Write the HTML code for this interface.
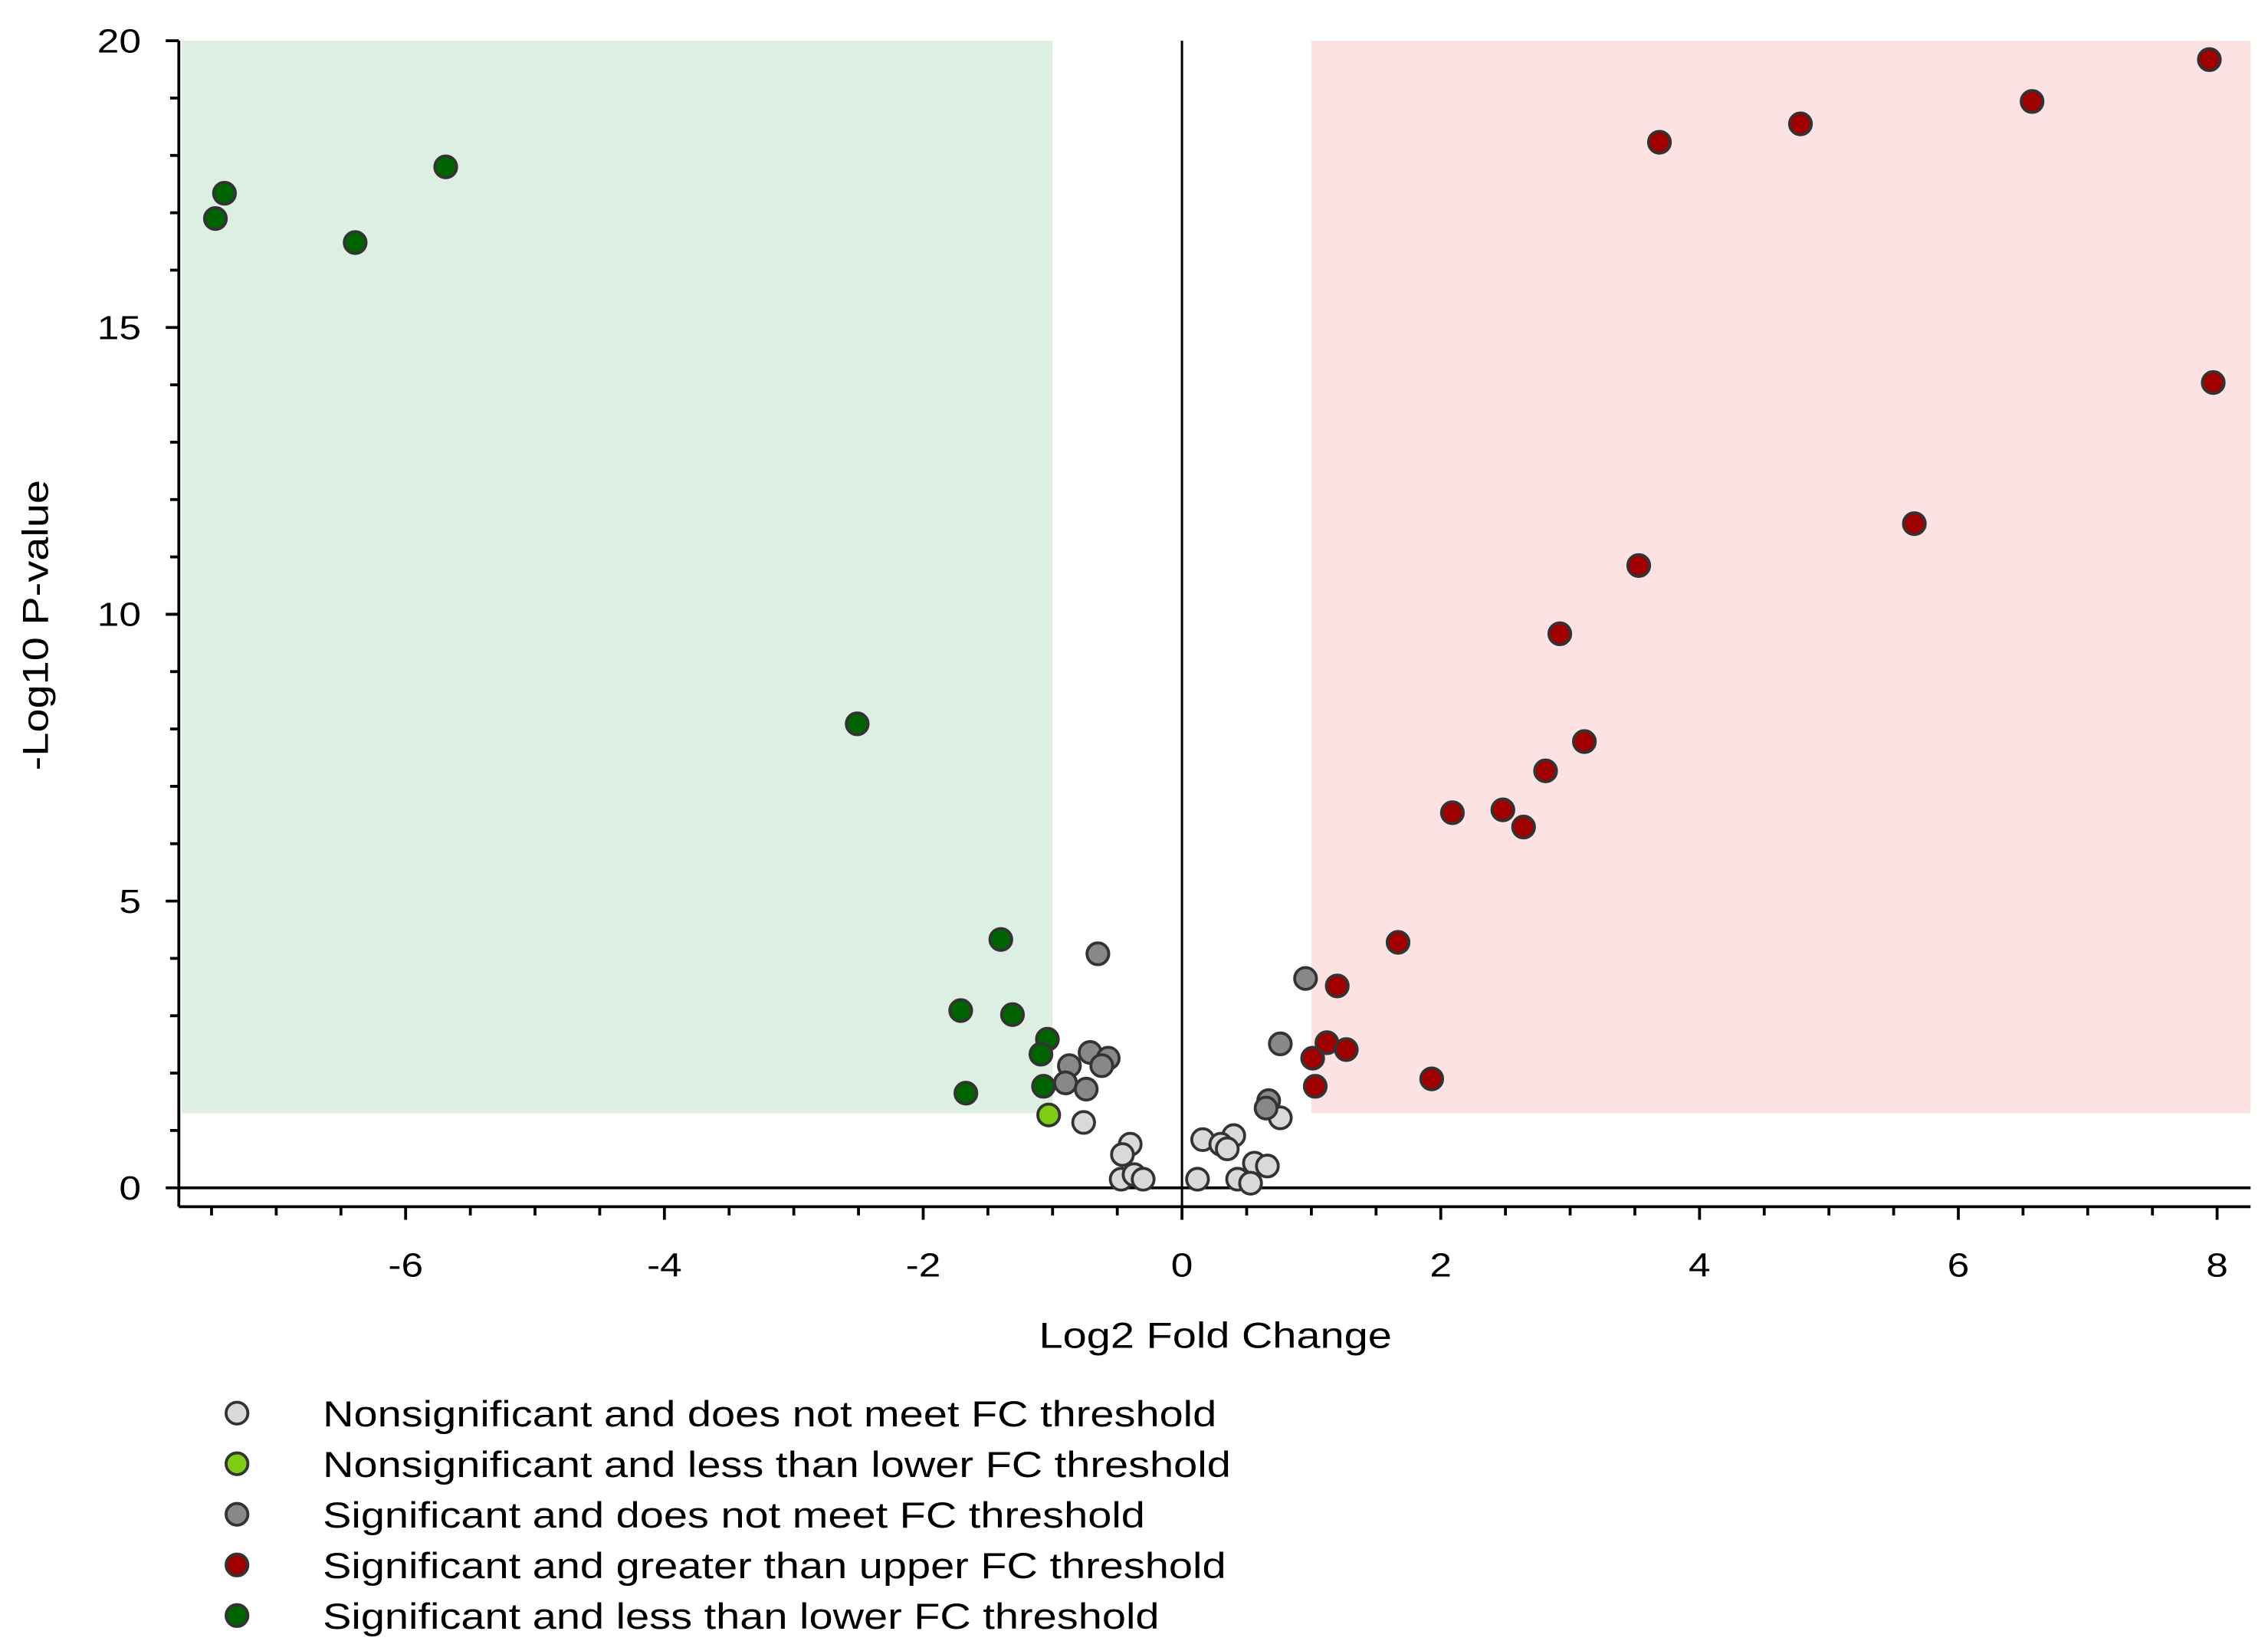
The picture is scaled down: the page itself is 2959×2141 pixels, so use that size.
<!DOCTYPE html>
<html><head><meta charset="utf-8"><style>
html,body{margin:0;padding:0;background:#fff;}
svg{display:block;}
text{font-family:"Liberation Sans",Arial,sans-serif;fill:#000;}
</style></head><body>
<svg id="chart" width="2959" height="2141" viewBox="0 0 1560 1128.7" preserveAspectRatio="none" xmlns="http://www.w3.org/2000/svg">
<g id="bg"></g><g id="axes"></g><g id="pts"></g><g id="legend"></g>
</svg>
<script>
const nsX=[-0.76,-0.40,-0.46,-0.47,-0.37,-0.30,0.16,0.40,0.30,0.35,0.76,0.12,0.43,0.56,0.66,0.53];
const nsY=[1.14,0.76,0.58,0.15,0.23,0.15,0.84,0.91,0.76,0.68,1.22,0.15,0.15,0.43,0.38,0.08];
const nsLowX=[-1.03];
const nsLowY=[1.27];
const sigX=[-0.65,-0.71,-0.57,-0.87,-0.62,-0.90,-0.74,0.955,0.76,0.67,0.65];
const sigY=[4.08,2.36,2.26,2.13,2.13,1.83,1.72,3.65,2.51,1.52,1.39];
const upX=[7.94,6.57,4.78,3.69,7.97,5.66,3.53,2.92,3.11,2.81,2.09,2.48,2.64,1.67,1.20,1.12,1.27,1.01,1.03,1.93];
const upY=[19.67,18.94,18.55,18.23,14.04,11.58,10.85,9.66,7.78,7.27,6.54,6.59,6.29,4.28,3.52,2.53,2.41,2.26,1.77,1.90];
const downX=[-7.47,-7.40,-6.39,-5.69,-2.51,-1.40,-1.71,-1.31,-1.67,-1.04,-1.09,-1.07];
const downY=[16.9,17.34,16.48,17.8,8.09,4.33,3.09,3.02,1.65,2.59,2.33,1.77];
const yTicks=[0,5,10,15,20];
const xTicks=[-6,-4,-2,0,2,4,6,8];
const legendLabels=["Nonsignificant and does not meet FC threshold","Nonsignificant and less than lower FC threshold","Significant and does not meet FC threshold","Significant and greater than upper FC threshold","Significant and less than lower FC threshold"];
const legendColors=["#d9d9d9","#7fcc14","#888888","#a00000","#006400"];

const NS="http://www.w3.org/2000/svg";
const X0=813, XU=89, Y0=817, YU=39.45;
const xs=v=>X0+v*XU, ys=v=>Y0-v*YU;
const L=123, R=1548, T=28, B=830;
function mk(tag,attrs,parent){const e=document.createElementNS(NS,tag);for(const k in attrs)e.setAttribute(k,attrs[k]);parent.appendChild(e);return e;}
const bg=document.getElementById('bg'),ax=document.getElementById('axes'),pts=document.getElementById('pts'),lg=document.getElementById('legend');

let r=mk('rect',{x:L+2,y:T,width:xs(-1)-L-2,height:ys(1.3)-T,fill:'#ddefe2'},bg);


r=mk('rect',{x:xs(1),y:T,width:R-xs(1),height:ys(1.3)-T,fill:'#fde2e4'},bg);



let l=mk('line',{x1:L,y1:T,x2:L,y2:B,stroke:'#000','stroke-width':2},ax);


l=mk('line',{x1:L,y1:B,x2:R,y2:B,stroke:'#000','stroke-width':2},ax);


l=mk('line',{x1:L,y1:ys(0),x2:R,y2:ys(0),stroke:'#000','stroke-width':2},ax);


l=mk('line',{x1:xs(0),y1:T,x2:xs(0),y2:B,stroke:'#000','stroke-width':1.6},ax);



for(let v=0;v<=20;v++){const major=v%5===0;mk('line',{x1:L-(major?9:6),y1:ys(v),x2:L,y2:ys(v),stroke:'#000','stroke-width':2},ax);}
for(const v of yTicks){const t=mk('text',{x:97,y:ys(v)+8,'text-anchor':'end','font-size':23},ax);t.textContent=v;

}
for(let v=-7.5;v<=8.01;v+=0.5){const major=Math.abs(v%2)<1e-6;mk('line',{x1:xs(v),y1:B,x2:xs(v),y2:B+(major?9:6),stroke:'#000','stroke-width':2},ax);}
for(const v of xTicks){const t=mk('text',{x:xs(v),y:878,'text-anchor':'middle','font-size':23},ax);t.textContent=v;

}
let t=mk('text',{x:836,y:927,'text-anchor':'middle','font-size':25},ax);t.textContent='Log2 Fold Change';


t=mk('text',{x:0,y:0,'text-anchor':'middle','font-size':25,transform:'translate(33,430) rotate(-90)'},ax);t.textContent='-Log10 P-value';



function series(xa,ya,col,name){for(let i=0;i<xa.length;i++){const c=mk('circle',{cx:xs(xa[i]),cy:ys(ya[i]),r:7.5,fill:col,stroke:'#333','stroke-width':2},pts);

}}
series(nsX,nsY,legendColors[0],'point-nonsignificant');
series(nsLowX,nsLowY,legendColors[1],'point-nonsig-low');
series(sigX,sigY,legendColors[2],'point-significant');
series(upX,upY,legendColors[3],'point-upregulated');
series(downX,downY,legendColors[4],'point-downregulated');

for(let i=0;i<legendLabels.length;i++){const y=972+i*34.8;
const c=mk('circle',{cx:163,cy:y,r:7.5,fill:legendColors[i],stroke:'#333','stroke-width':2},lg);


const tx=mk('text',{x:222,y:y+9,'font-size':25},lg);tx.textContent=legendLabels[i];

}

// widen glyphs to match the reference's stretched font
document.querySelectorAll('#chart text').forEach(el=>{const w=el.getComputedTextLength();el.setAttribute('textLength',(w*1.18).toFixed(1));el.setAttribute('lengthAdjust','spacingAndGlyphs');});
</script>
</body></html>
